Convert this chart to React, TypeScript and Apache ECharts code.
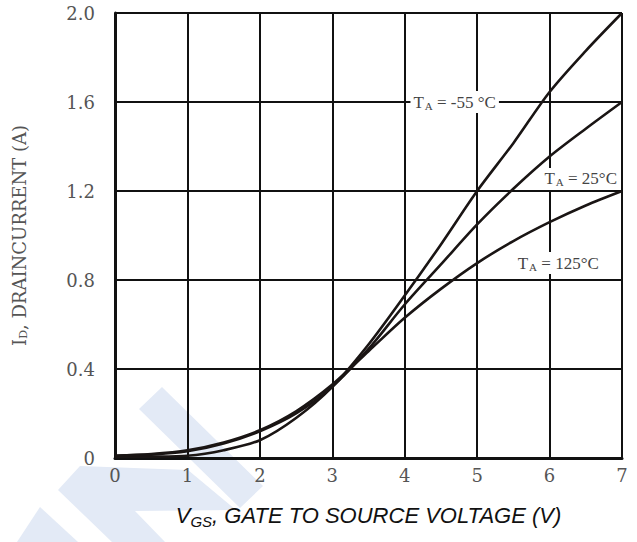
import React, { useEffect, useRef } from "react";
import * as echarts from "echarts";

const vgs = [0, 0.5, 1, 1.5, 2, 2.5, 3, 3.5, 4, 4.5, 5, 5.5, 6, 6.5, 7];
const idMinus55 = [0.005, 0.006, 0.01, 0.035, 0.08, 0.18, 0.32, 0.51, 0.73, 0.96, 1.2, 1.415, 1.645, 1.83, 2.0];
const id25 = [0.01, 0.015, 0.03, 0.065, 0.12, 0.2, 0.32, 0.49, 0.69, 0.87, 1.05, 1.21, 1.355, 1.48, 1.6];
const id125 = [0.01, 0.018, 0.035, 0.07, 0.125, 0.21, 0.33, 0.48, 0.63, 0.76, 0.876, 0.975, 1.06, 1.135, 1.2];
const yTicks = ["0", "0.4", "0.8", "1.2", "1.6", "2.0"];
const xTicks = ["0", "1", "2", "3", "4", "5", "6", "7"];
const labels = [
  { series: "-55", text: " = -55 °C", at: [4.69, 1.6] },
  { series: "25", text: " = 25°C", at: [6.43, 1.254] },
  { series: "125", text: " = 125°C", at: [6.12, 0.876] },
];

const serif = "'DejaVu Serif', 'Liberation Serif', serif";
const serif2 = "'Liberation Serif', 'DejaVu Serif', serif";
const sans = "'Liberation Sans', Arial, sans-serif";

export default function App() {
  const ref = useRef<HTMLDivElement>(null);
  useEffect(() => {
    if (!ref.current) return;
    const chart = echarts.init(ref.current, null, { renderer: "svg" });
    const mk = (name: string, data: number[]) => {
      const lab = labels.find((l) => l.series === name)!;
      return {
        name,
        type: "line",
        smooth: 0.3,
        showSymbol: false,
        z: 3,
        data: vgs.map((v, i) => [v, data[i]]),
        lineStyle: { color: "#1a1514", width: 2.6 },
        markPoint: {
          symbol: "circle",
          symbolSize: 0,
          z: 5,
          data: [
            {
              coord: lab.at,
              label: {
                show: true,
                position: "inside",
                backgroundColor: "#ffffff",
                padding: [2, 3, 2, 3],
                formatter: "{t|T}{s|A}{t|" + lab.text + "}",
                rich: {
                  t: { fontFamily: serif2, fontSize: 17, color: "#444" },
                  s: { fontFamily: serif2, fontSize: 11, color: "#444", verticalAlign: "bottom", padding: [7, 0, 0, 1] },
                },
              },
            },
          ],
        },
      };
    };
    chart.setOption({
      animation: false,
      backgroundColor: "#ffffff",
      grid: { left: 115, right: 15, top: 13, bottom: 84, show: false },
      graphic: [
        {
          type: "polygon",
          silent: true,
          z: -10,
          shape: { points: [[162, 387], [139, 409], [240, 508], [263, 486]] },
          style: { fill: "#e3eaf6" },
        },
        {
          type: "polygon",
          silent: true,
          z: -10,
          shape: { points: [[58, 490], [80, 466], [188, 470], [236, 510], [135, 511], [165, 542], [112, 542]] },
          style: { fill: "#e3eaf6" },
        },
        {
          type: "polygon",
          silent: true,
          z: -10,
          shape: { points: [[17, 542], [40, 507], [78, 542]] },
          style: { fill: "#e3eaf6" },
        },
      ],
      xAxis: {
        type: "value",
        min: 0,
        max: 7,
        interval: 1,
        name: "{v|V}{s|GS}{v|, GATE TO SOURCE VOLTAGE (V)}",
        nameLocation: "middle",
        nameGap: 44,
        nameTextStyle: {
          rich: {
            v: { fontFamily: sans, fontStyle: "italic", fontSize: 22, color: "#111" },
            s: { fontFamily: sans, fontStyle: "italic", fontSize: 15, color: "#111", verticalAlign: "bottom", padding: [12, 0, 0, 0] },
          },
        },
        axisLine: { show: true, lineStyle: { color: "#111", width: 3 } },
        axisTick: { show: false },
        axisLabel: {
          margin: 8,
          fontFamily: serif,
          fontSize: 18,
          color: "#555",
          formatter: (v: number) => xTicks[Math.round(v)] ?? "",
        },
        splitLine: { show: true, lineStyle: { color: "#111", width: 2 } },
      },
      yAxis: {
        type: "value",
        min: 0,
        max: 2,
        interval: 0.4,
        name: "{i|I}{s|D}{i|, DRAINCURRENT (A)}",
        nameLocation: "middle",
        nameRotate: 90,
        nameGap: 86,
        nameTextStyle: {
          rich: {
            i: { fontFamily: serif, fontSize: 18, color: "#555" },
            s: { fontFamily: serif, fontSize: 11, color: "#555", verticalAlign: "bottom", padding: [9, 0, 0, 0] },
          },
        },
        axisLine: { show: true, lineStyle: { color: "#111", width: 3 } },
        axisTick: { show: false },
        axisLabel: {
          margin: 20,
          fontFamily: serif,
          fontSize: 18,
          color: "#555",
          formatter: (v: number) => yTicks[Math.round(v / 0.4)] ?? "",
        },
        splitLine: { show: true, lineStyle: { color: "#111", width: 2 } },
      },
      series: [mk("-55", idMinus55), mk("25", id25), mk("125", id125)],
    });
    return () => chart.dispose();
  }, []);
  return <div ref={ref} style={{ width: 637, height: 542, position: "absolute", left: 0, top: 0 }} />;
}
